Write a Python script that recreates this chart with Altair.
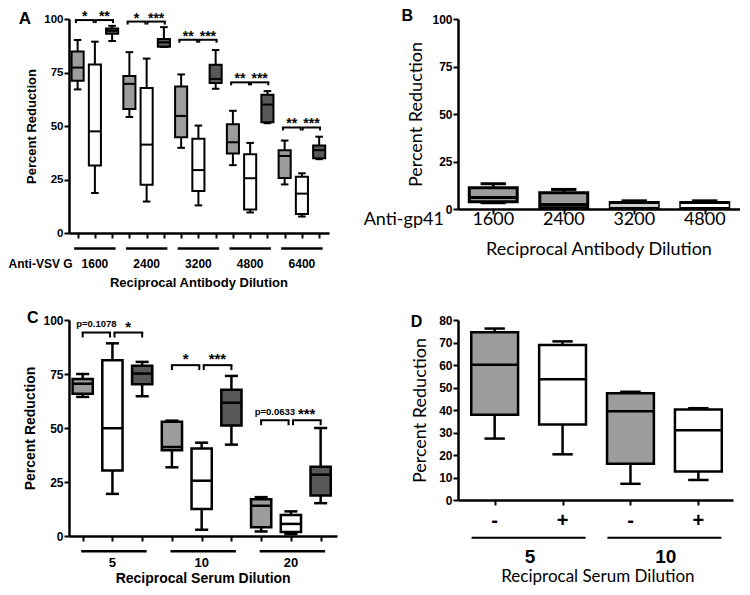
import altair as alt
import pandas as pd

BOLD = "Liberation Sans"
CAL = "Lato"
FILLS = {"gray": "#9c9c9c", "white": "#ffffff", "dark": "#585858"}

# ---------------- Panel A ----------------
A_dilutions = ["1600", "2400", "3200", "4800", "6400"]
A_kind = ["gray", "white", "dark"]
A_max = [90.2, 89.4, 96.8, 84.5, 81.5, 96.2, 74.1, 50.2, 85.5, 57.1, 42.1, 66.3, 43.2, 27.9, 45.0]
A_q3 = [84.8, 78.7, 95.6, 73.4, 67.7, 90.7, 68.5, 44.0, 78.6, 50.8, 36.8, 64.6, 38.7, 26.3, 40.9]
A_med = [77.3, 47.5, 94.5, 69.7, 41.3, 89.1, 54.7, 29.4, 72.0, 42.4, 25.6, 60.0, 36.0, 18.4, 38.7]
A_q1 = [71.2, 31.5, 93.1, 57.9, 22.5, 87.0, 44.7, 19.6, 70.1, 37.1, 11.0, 51.8, 25.7, 8.9, 34.9]
A_min = [67.1, 18.7, 89.7, 54.2, 14.7, 87.0, 39.8, 12.9, 67.4, 31.7, 9.6, 51.3, 22.7, 7.7, 34.5]
A_bracket = [99.5, 98.8, 90.3, 70.4, 49.3]
A_marks = [["*", "**"], ["*", "***"], ["**", "***"], ["**", "***"], ["**", "***"]]

# ---------------- Panel B ----------------
B_dilutions = ["1600", "2400", "3200", "4800"]
B_max = [13.3, 10.3, 4.3, 4.3]
B_q3 = [11.2, 8.6, 3.4, 3.4]
B_med = [6.0, 2.4, 1.9, 1.9]
B_q1 = [3.8, 0.7, 0.7, 0.7]
B_min = [3.3, 0.5, 0.5, 0.5]

# ---------------- Panel C ----------------
C_dilutions = ["5", "10", "20"]
C_max = [75.0, 89.2, 80.6, 53.4, 43.2, 74.1, 18.0, 11.4, 50.0]
C_q3 = [72.7, 81.4, 78.8, 52.9, 40.5, 67.7, 17.0, 9.7, 32.1]
C_med = [70.5, 49.9, 75.2, 41.2, 25.6, 61.7, 14.0, 5.6, 28.4]
C_q1 = [65.8, 30.3, 70.3, 39.7, 12.5, 51.1, 4.1, 1.8, 18.8]
C_min = [64.4, 19.5, 64.7, 31.8, 2.9, 42.3, 2.1, 0.9, 15.2]
C_bracket = [94.2, 79.1, 53.6]
C_marks = [["p=0.1078", "*"], ["*", "***"], ["p=0.0633", "***"]]

# ---------------- Panel D ----------------
D_dilutions = ["5", "10"]
D_signs = ["-", "+", "-", "+"]
D_kind = ["gray", "white", "gray", "white"]
D_max = [76.2, 70.5, 48.1, 40.8]
D_q3 = [74.6, 68.9, 47.5, 40.2]
D_med = [60.1, 53.7, 39.5, 31.0]
D_q1 = [37.9, 33.6, 16.1, 12.7]
D_min = [27.3, 20.3, 7.2, 8.9]


def box_df(mx, q3, md, q1, mn, kinds, medcols=None):
    n = len(mx)
    return pd.DataFrame({
        "pos": list(range(n)), "hi": mx, "q3": q3, "med": md, "q1": q1, "lo": mn,
        "fill": [FILLS[k] for k in kinds],
        "mc": medcols if medcols else ["black"] * n,
    })


def yaxis(values, title, tfont, tsize, tweight, lsize, tpad, lpad=1):
    return alt.Axis(values=values, title=title, titleFont=tfont, titleFontSize=tsize,
                    titleFontWeight=tweight, titleColor="black", titlePadding=tpad,
                    labelFont=BOLD, labelFontSize=lsize, labelFontWeight="bold",
                    labelColor="black", labelPadding=lpad, tickSize=5, tickWidth=2,
                    tickColor="black", domainColor="black", domainWidth=2.5, grid=False)


def xaxis(values):
    return alt.Axis(values=values, labels=False, title="", tickSize=5, tickWidth=2,
                    tickColor="black", domainColor="black", domainWidth=2.5, grid=False)


class Panel:
    def __init__(self, xs, ys, xa, ya):
        self.xs, self.ys, self.xa, self.ya = xs, ys, xa, ya

    def X(self, f):
        return alt.X(f"{f}:Q", scale=self.xs, axis=self.xa)

    def Y(self, f):
        return alt.Y(f"{f}:Q", scale=self.ys, axis=self.ya)

    def boxes(self, df, hw, cw, sw):
        base = alt.Chart(df).transform_calculate(
            xl=f"datum.pos - {hw}", xh=f"datum.pos + {hw}",
            cl=f"datum.pos - {cw}", ch=f"datum.pos + {cw}")
        whisk = base.mark_rule(color="black", strokeWidth=sw).encode(
            x=self.X("pos"), y=self.Y("lo"), y2="hi:Q")
        cap_hi = base.mark_rule(color="black", strokeWidth=sw).encode(
            x=self.X("cl"), x2="ch:Q", y=self.Y("hi"))
        cap_lo = base.mark_rule(color="black", strokeWidth=sw).encode(
            x=self.X("cl"), x2="ch:Q", y=self.Y("lo"))
        box = base.mark_rect(stroke="black", strokeWidth=sw).encode(
            x=self.X("xl"), x2="xh:Q", y=self.Y("q1"), y2="q3:Q",
            fill=alt.Fill("fill:N", scale=None))
        med = base.mark_rule(strokeWidth=sw).encode(
            x=self.X("xl"), x2="xh:Q", y=self.Y("med"),
            color=alt.Color("mc:N", scale=None))
        return [whisk, cap_hi, cap_lo, box, med]

    def brackets(self, df, tick, sw=2):
        base = alt.Chart(df).transform_calculate(yt=f"datum.y - {tick}")
        h = base.mark_rule(color="black", strokeWidth=sw, strokeCap="square").encode(
            x=self.X("x1"), x2="x2:Q", y=self.Y("y"))
        l = base.mark_rule(color="black", strokeWidth=sw).encode(
            x=self.X("x1"), y=self.Y("y"), y2="yt:Q")
        r = base.mark_rule(color="black", strokeWidth=sw).encode(
            x=self.X("x2"), y=self.Y("y"), y2="yt:Q")
        return [h, l, r]

    def texts(self, df, font, size, weight="bold", align="center", baseline="middle", dy=0):
        return alt.Chart(df).mark_text(font=font, fontSize=size, fontWeight=weight, align=align,
                                       baseline=baseline, color="black", dy=dy).encode(
            x=self.X("x"), y=self.Y("y"), text="t:N")

    def hlines(self, df, sw):
        return alt.Chart(df).mark_rule(color="black", strokeWidth=sw).encode(
            x=self.X("x1"), x2="x2:Q", y=self.Y("y"))


# ================= build A =================
PA = Panel(alt.Scale(domain=[-0.5, 14.57], nice=False, zero=False),
           alt.Scale(domain=[0, 100], nice=False, zero=False),
           xaxis(list(range(15))),
           yaxis([0, 25, 50, 75, 100], "Percent Reduction", BOLD, 13, "bold", 11.5, 5))
dfA = box_df(A_max, A_q3, A_med, A_q1, A_min, A_kind * len(A_dilutions))
brA = pd.DataFrame({
    "x1": [3 * g + o for g in range(5) for o in (-0.1, 1.05)],
    "x2": [3 * g + o for g in range(5) for o in (0.93, 2.05)],
    "y": [b for b in A_bracket for _ in range(2)],
})
starsA = pd.DataFrame({
    "x": [3 * g + o for g in range(5) for o in (0.41, 1.55)],
    "y": [b for b in A_bracket for _ in range(2)],
    "t": [s for pair in A_marks for s in pair],
})
ulA = pd.DataFrame({"x1": [3 * g - 0.2 for g in range(5)],
                    "x2": [3 * g + 2.2 for g in range(5)], "y": [-7.3] * 5})
labA = pd.DataFrame({"x": [3 * g + 1 for g in range(5)], "y": [-14.3] * 5, "t": A_dilutions})
antiA = pd.DataFrame({"x": [-0.29], "y": [-14.3], "t": ["Anti-VSV G"]})
titA = pd.DataFrame({"x": [7.03], "y": [-23.4], "t": ["Reciprocal Antibody Dilution"]})
letA = pd.DataFrame({"x": [-3.05], "y": [99.8], "t": ["A"]})

chartA = alt.layer(
    *PA.boxes(dfA, 0.35, 0.22, 2),
    *PA.brackets(brA, 1.4),
    PA.texts(starsA, BOLD, 14, baseline="alphabetic", dy=1),
    PA.hlines(ulA, 2.5),
    PA.texts(labA, BOLD, 12),
    PA.texts(antiA, BOLD, 12, align="right"),
    PA.texts(titA, BOLD, 13),
    PA.texts(letA, BOLD, 17),
).properties(width=260, height=214)

# ================= build B =================
PB = Panel(alt.Scale(domain=[-0.5, 3.5], nice=False, zero=False),
           alt.Scale(domain=[0, 100], nice=False, zero=False),
           xaxis(list(range(4))),
           yaxis([0, 25, 50, 75, 100], "Percent Reduction", CAL, 18, "normal", 12, 6))
dfB = box_df(B_max, B_q3, B_med, B_q1, B_min, ["gray"] * 4,
             ["black", "black", "#d0d0d0", "#ffffff"])
labB = pd.DataFrame({"x": list(range(4)), "y": [-5.8] * 4, "t": B_dilutions})
antiB = pd.DataFrame({"x": [-0.7], "y": [-5.8], "t": ["Anti-gp41"]})
titB = pd.DataFrame({"x": [1.5], "y": [-21.6], "t": ["Reciprocal Antibody Dilution"]})
letB = pd.DataFrame({"x": [-1.22], "y": [101.4], "t": ["B"]})

chartB = alt.layer(
    *PB.boxes(dfB, 0.34, 0.18, 3),
    PB.texts(labB, CAL, 18, weight="normal"),
    PB.texts(antiB, CAL, 18, weight="normal", align="right"),
    PB.texts(titB, CAL, 18, weight="normal"),
    PB.texts(letB, BOLD, 16),
).properties(width=282, height=190)

# ================= build C =================
PC = Panel(alt.Scale(domain=[-0.46, 8.55], nice=False, zero=False),
           alt.Scale(domain=[0, 100], nice=False, zero=False),
           xaxis(list(range(9))),
           yaxis([0, 25, 50, 75, 100], "Percent Reduction", BOLD, 14, "bold", 12, 5))
dfC = box_df(C_max, C_q3, C_med, C_q1, C_min, A_kind * len(C_dilutions))
brC = pd.DataFrame({
    "x1": [3 * g + o for g in range(3) for o in (0.0, 1.07)],
    "x2": [3 * g + o for g in range(3) for o in (0.92, 2.0)],
    "y": [b for b in C_bracket for _ in range(2)],
})
markC = [m for pair in C_marks for m in pair]
mxC = [3 * g + o for g in range(3) for o in (0.46, 1.53)]
myC = [b for b in C_bracket for _ in range(2)]
pC = pd.DataFrame({"x": [x for x, m in zip(mxC, markC) if m.startswith("p")],
                   "y": [y + 3.8 for y, m in zip(myC, markC) if m.startswith("p")],
                   "t": [m for m in markC if m.startswith("p")]})
sC = pd.DataFrame({"x": [x for x, m in zip(mxC, markC) if not m.startswith("p")],
                   "y": [y for y, m in zip(myC, markC) if not m.startswith("p")],
                   "t": [m for m in markC if not m.startswith("p")]})
ulC = pd.DataFrame({"x1": [3 * g - 0.05 for g in range(3)],
                    "x2": [3 * g + 2.15 for g in range(3)], "y": [-7.1] * 3})
labC = pd.DataFrame({"x": [3 * g + 1 for g in range(3)], "y": [-12.6] * 3, "t": C_dilutions})
titC = pd.DataFrame({"x": [4.05], "y": [-19.9], "t": ["Reciprocal Serum Dilution"]})
letC = pd.DataFrame({"x": [-1.68], "y": [101.1], "t": ["C"]})

chartC = alt.layer(
    *PC.boxes(dfC, 0.34, 0.22, 2.5),
    *PC.brackets(brC, 2.3),
    PC.texts(pC, BOLD, 9.5),
    PC.texts(sC, BOLD, 15, baseline="alphabetic", dy=-1),
    PC.hlines(ulC, 2.5),
    PC.texts(labC, BOLD, 13),
    PC.texts(titC, BOLD, 14),
    PC.texts(letC, BOLD, 16),
).properties(width=268, height=216)

# ================= build D =================
PD = Panel(alt.Scale(domain=[-0.54, 3.51], nice=False, zero=False),
           alt.Scale(domain=[0, 80], nice=False, zero=False),
           xaxis(list(range(4))),
           yaxis(list(range(0, 81, 10)), "Percent Reduction", CAL, 18, "normal", 12, 9))
dfD = box_df(D_max, D_q3, D_med, D_q1, D_min, D_kind)
sgD = pd.DataFrame({"x": list(range(4)), "y": [-9.3] * 4, "t": D_signs})
ulD = pd.DataFrame({"x1": [2 * g + 0.5 - 0.84 for g in range(2)],
                    "x2": [2 * g + 0.5 + 0.84 for g in range(2)], "y": [-16.8] * 2})
labD = pd.DataFrame({"x": [2 * g + 0.52 for g in range(2)], "y": [-25.2] * 2, "t": D_dilutions})
titD = pd.DataFrame({"x": [1.52], "y": [-34.2], "t": ["Reciprocal Serum Dilution"]})
letD = pd.DataFrame({"x": [-1.15], "y": [79.3], "t": ["D"]})

chartD = alt.layer(
    *PD.boxes(dfD, 0.345, 0.15, 2.5),
    PD.texts(sgD, BOLD, 20),
    PD.hlines(ulD, 2),
    PD.texts(labD, BOLD, 19),
    PD.texts(titD, CAL, 17, weight="normal"),
    PD.texts(letD, BOLD, 16),
).properties(width=275, height=180)

chart = alt.concat(
    chartA, chartB, chartC, chartD, columns=2,
    spacing={"row": 87, "column": 121}, bounds="flush",
).properties(padding={"left": 0, "top": 0, "right": 0, "bottom": 0}
).configure_view(stroke=None)

chart.save("out.html", embed_options={"renderer": "svg", "actions": False})
